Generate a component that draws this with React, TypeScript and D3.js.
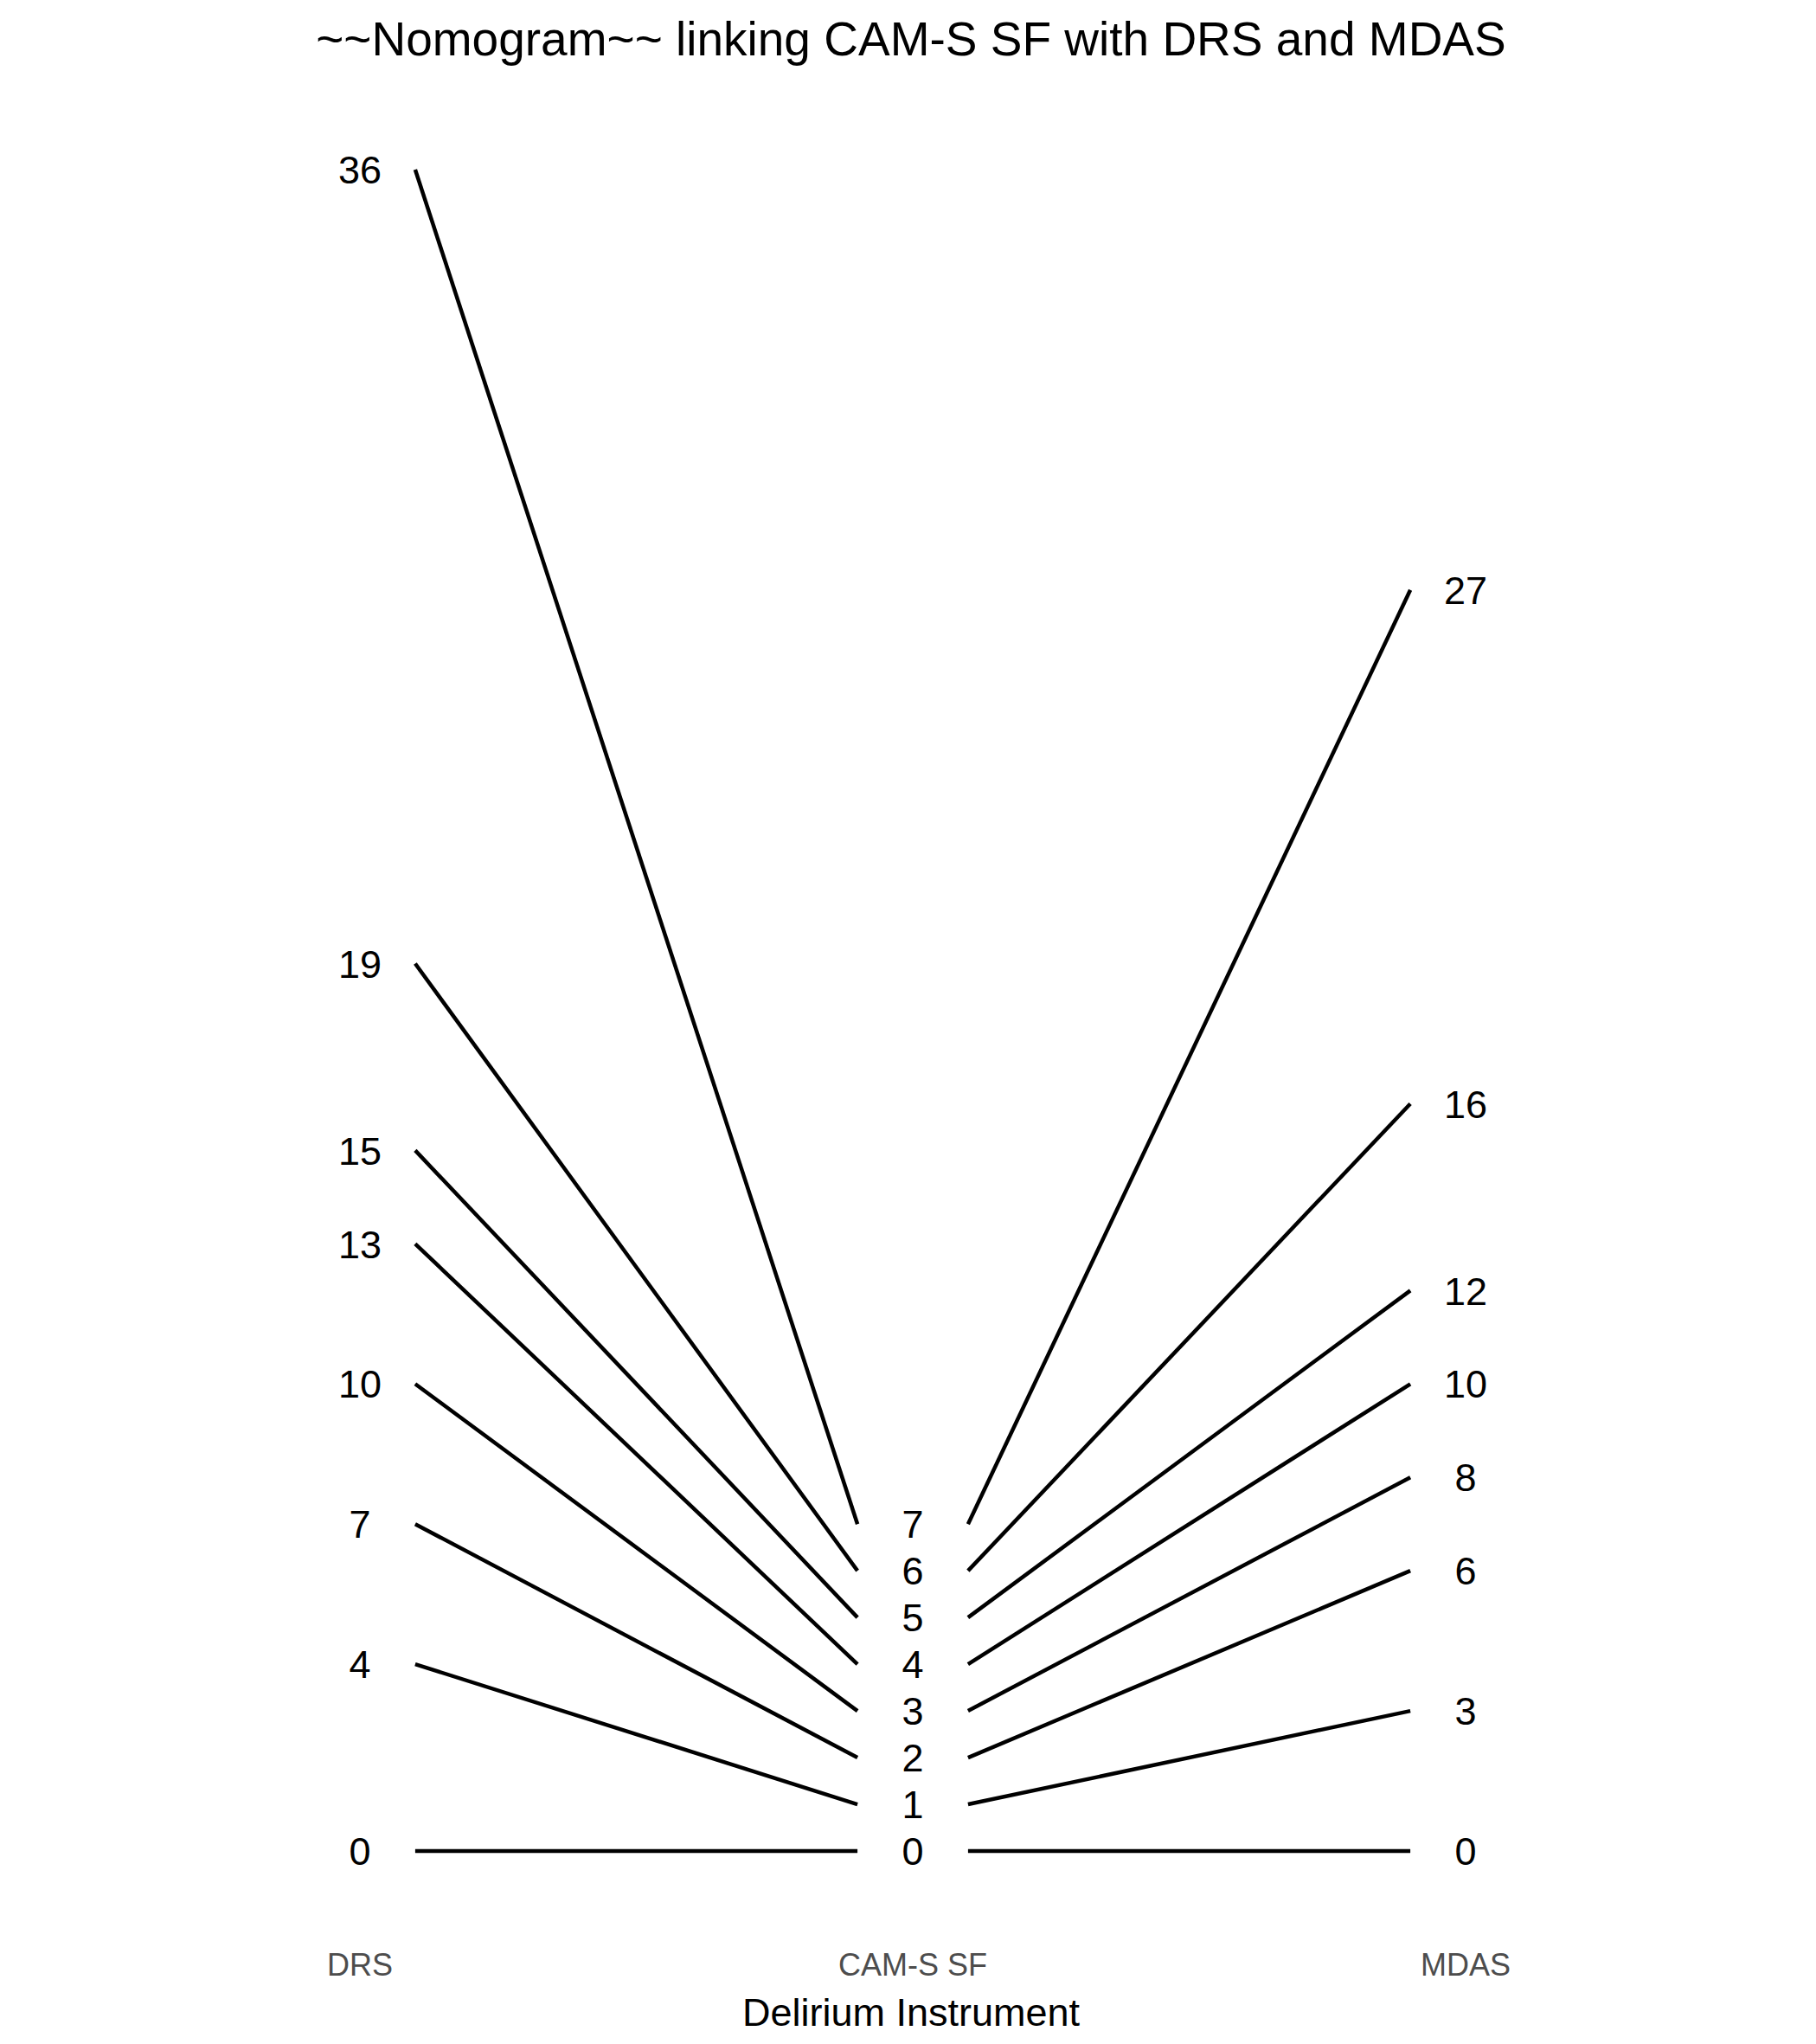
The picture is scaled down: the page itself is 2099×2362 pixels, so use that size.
import React from "react";
import * as d3 from "d3";

const instruments = ["DRS", "CAM-S SF", "MDAS"];
const drsValues = [0, 4, 7, 10, 13, 15, 19, 36];
const camValues = [0, 1, 2, 3, 4, 5, 6, 7];
const mdasValues = [0, 3, 6, 8, 10, 12, 16, 27];
const title = "~~Nomogram~~ linking CAM-S SF with DRS and MDAS";
const xTitle = "Delirium Instrument";

const W = 2099;
const H = 2362;
const FONT = "'Liberation Sans', Arial, Helvetica, sans-serif";

export default function App() {
  const x = d3.scaleLinear().domain([1, 3]).range([416, 1694]);
  const y = d3.scaleLinear().domain([0, 36]).range([2139, 196]);
  const line = d3.line<[number, number]>().x((d) => x(d[0])).y((d) => y(d[1]));

  const leftSegs = camValues.map((c, i) => [[1.1, drsValues[i]], [1.9, c]] as [number, number][]);
  const rightSegs = camValues.map((c, i) => [[2.1, c], [2.9, mdasValues[i]]] as [number, number][]);
  const cols = [drsValues, camValues, mdasValues];

  return (
    <svg width={W} height={H} style={{ position: "absolute", left: 0, top: 0, display: "block", background: "#fff" }} fontFamily={FONT}>
      <rect x={0} y={0} width={W} height={H} fill="#fff" />
      <text x={1053} y={64} textAnchor="middle" fontSize={55} fill="#000">{title}</text>
      {leftSegs.concat(rightSegs).map((s, i) => (
        <path key={i} d={line(s) || ""} stroke="#000" strokeWidth={4.5} fill="none" />
      ))}
      {cols.map((vals, ci) =>
        vals.map((v, i) => (
          <text key={ci + "-" + i} x={x(ci + 1)} y={y(v)} dy="0.36em" textAnchor="middle" fontSize={45} fill="#000">{v}</text>
        ))
      )}
      {instruments.map((name, i) => (
        <text key={name} x={x(i + 1)} y={2283} textAnchor="middle" fontSize={36} fill="#4d4d4d">{name}</text>
      ))}
      <text x={1053} y={2341} textAnchor="middle" fontSize={45} fill="#000">{xTitle}</text>
    </svg>
  );
}
